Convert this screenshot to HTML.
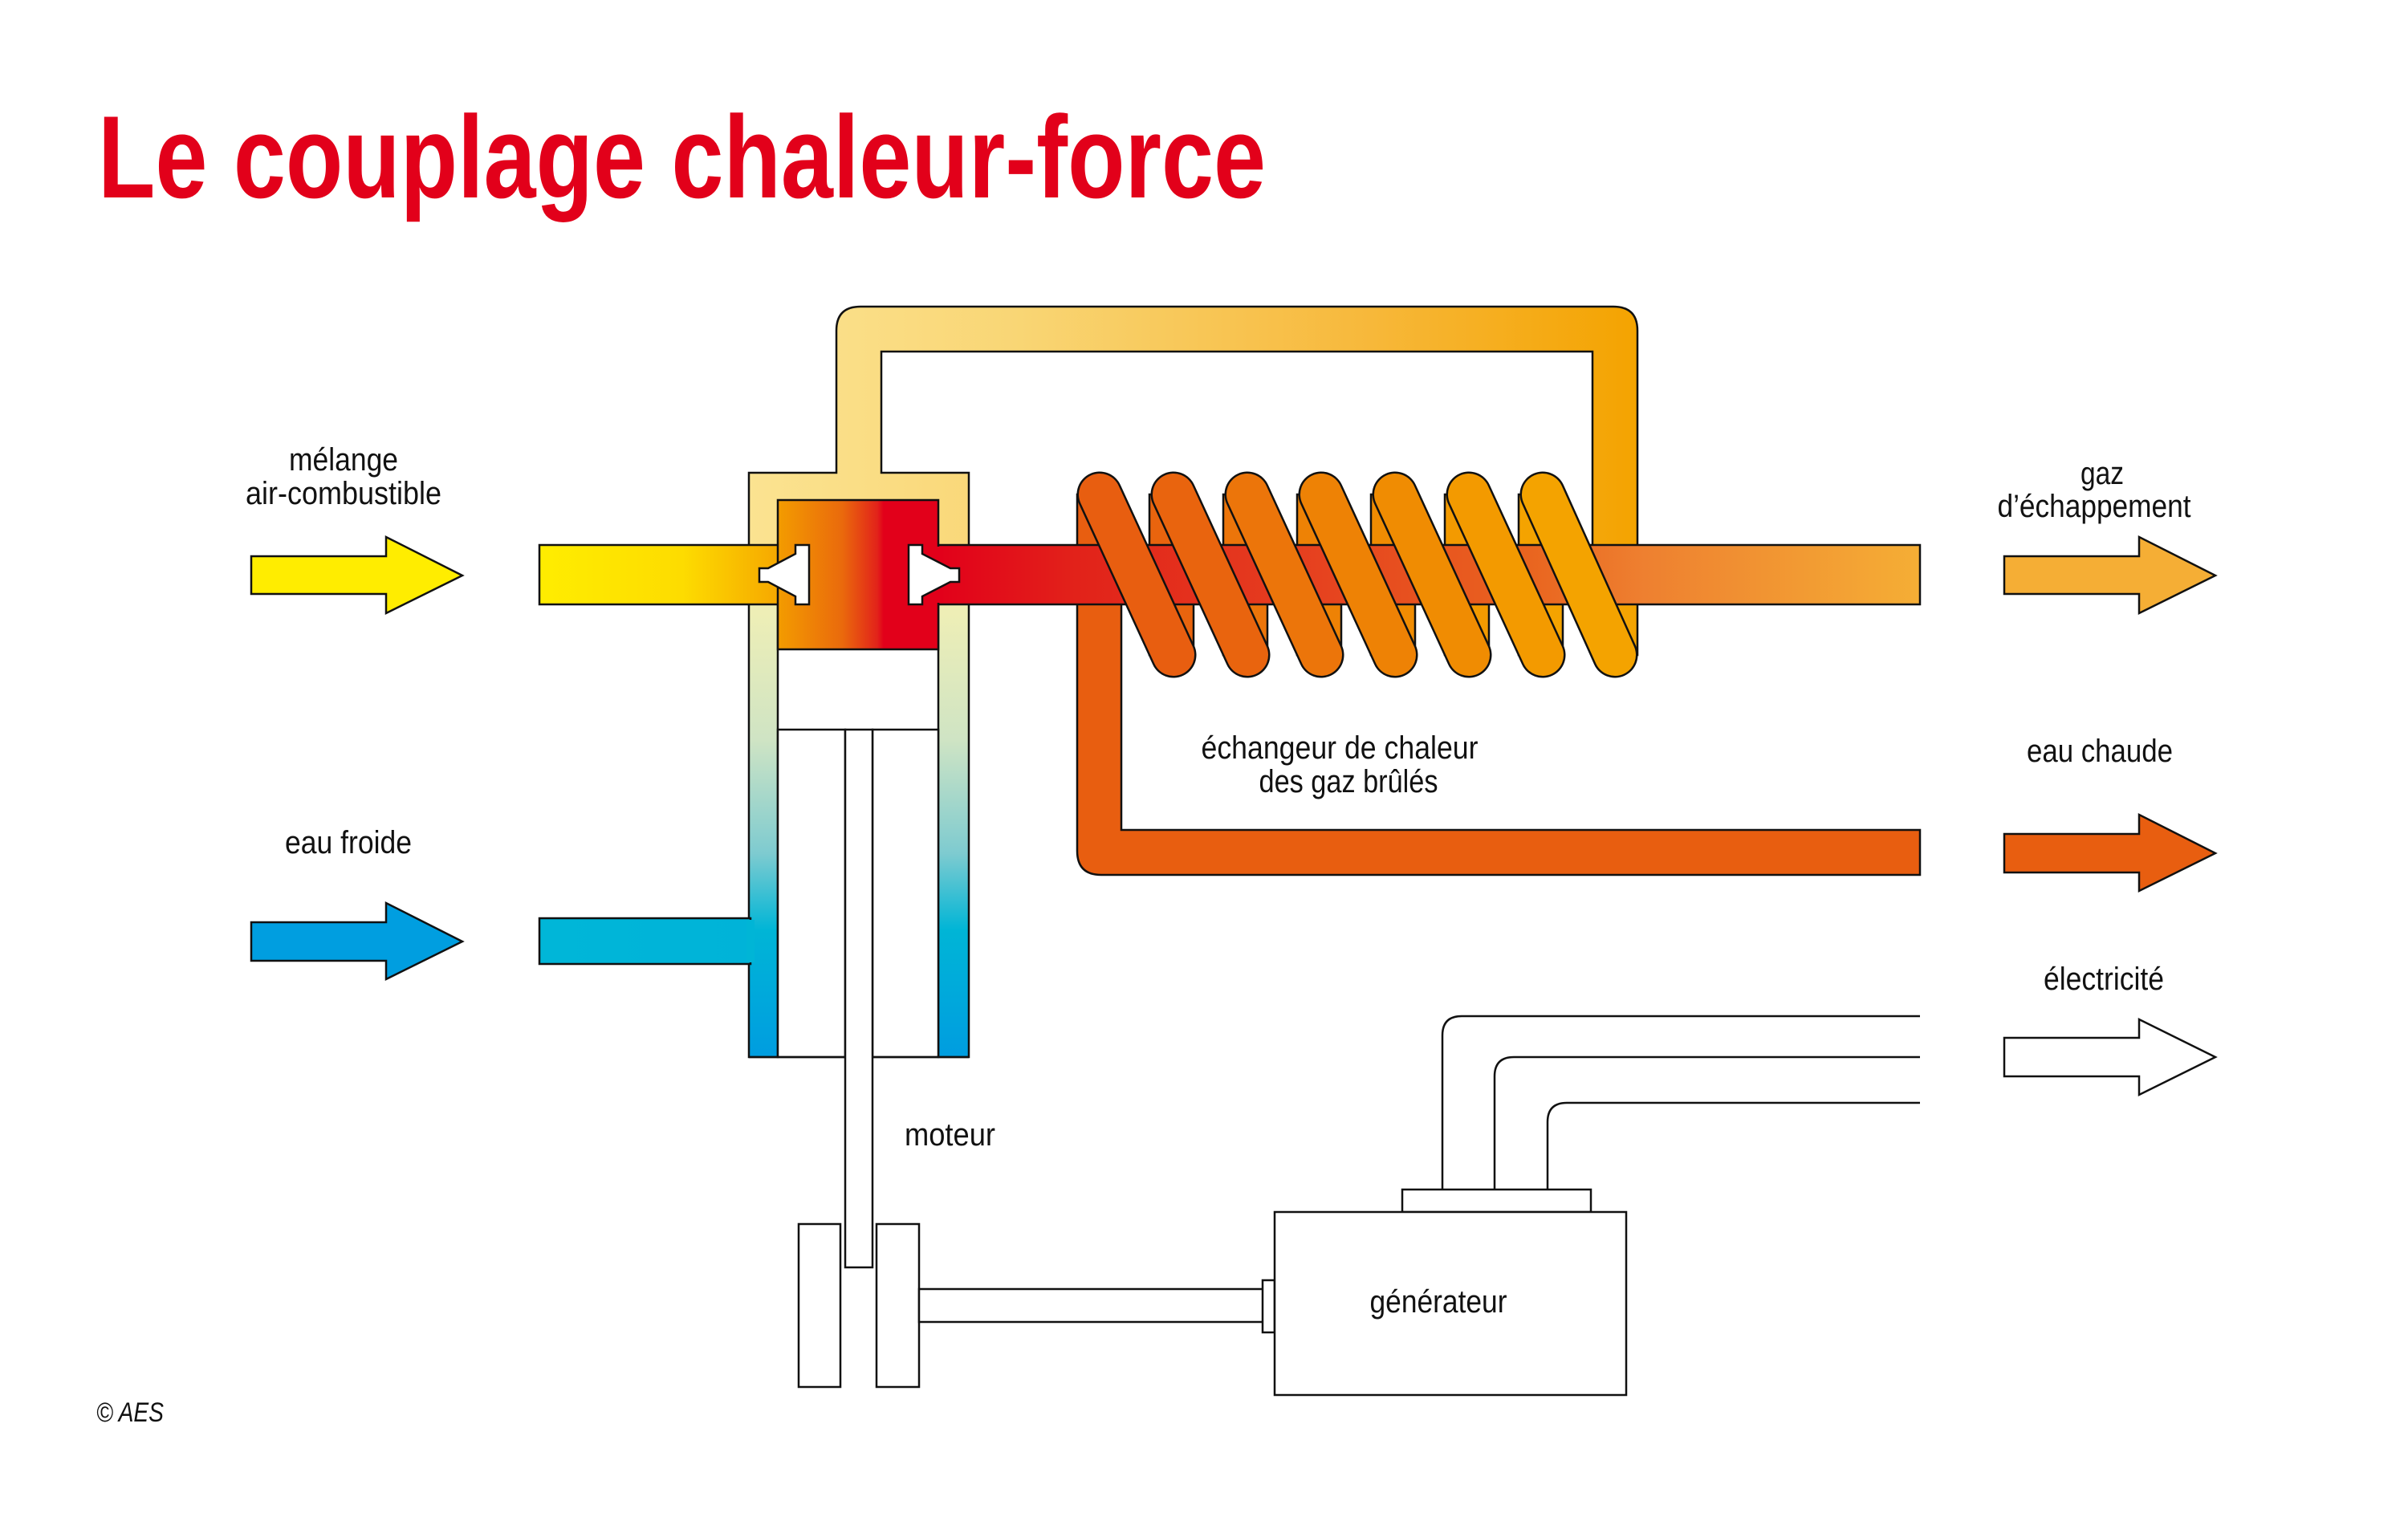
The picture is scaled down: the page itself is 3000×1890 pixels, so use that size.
<!DOCTYPE html>
<html><head><meta charset="utf-8"><style>
html,body{margin:0;padding:0;background:#fff;}
svg{display:block;}
text{font-family:"Liberation Sans Narrow","Liberation Sans",sans-serif;fill:#111;}
</style></head><body>
<svg width="3000" height="1890" viewBox="0 0 3000 1890" xmlns="http://www.w3.org/2000/svg">
<defs>
<linearGradient id="gYel" gradientUnits="userSpaceOnUse" x1="672" y1="0" x2="969" y2="0">
<stop offset="0" stop-color="#ffed00"/><stop offset="0.6" stop-color="#fddc00"/><stop offset="1" stop-color="#f6a800"/></linearGradient>
<linearGradient id="gCh" gradientUnits="userSpaceOnUse" x1="969" y1="0" x2="1169" y2="0">
<stop offset="0" stop-color="#f39c00"/><stop offset="0.4" stop-color="#ea6a0c"/><stop offset="0.62" stop-color="#e2231a"/><stop offset="0.66" stop-color="#e2001a"/><stop offset="1" stop-color="#e2001a"/></linearGradient>
<linearGradient id="gGas" gradientUnits="userSpaceOnUse" x1="1169" y1="0" x2="2392" y2="0">
<stop offset="0" stop-color="#e2001a"/><stop offset="0.14" stop-color="#e2221a"/><stop offset="0.35" stop-color="#e53c1f"/><stop offset="0.6" stop-color="#e9641f"/><stop offset="0.72" stop-color="#ee8030"/><stop offset="1" stop-color="#f5ae35"/></linearGradient>
<linearGradient id="gTop" gradientUnits="userSpaceOnUse" x1="933" y1="0" x2="2040" y2="0">
<stop offset="0" stop-color="#fbe391"/><stop offset="0.3" stop-color="#f9d675"/><stop offset="0.7" stop-color="#f7b83a"/><stop offset="1" stop-color="#f4a300"/></linearGradient>
<linearGradient id="gWall" gradientUnits="userSpaceOnUse" x1="0" y1="753" x2="0" y2="1317">
<stop offset="0" stop-color="#f0efb5"/><stop offset="0.3" stop-color="#cfe4c4"/><stop offset="0.55" stop-color="#7ecbd0"/><stop offset="0.72" stop-color="#00b5d6"/><stop offset="1" stop-color="#009de0"/></linearGradient>
<linearGradient id="gCold" gradientUnits="userSpaceOnUse" x1="672" y1="0" x2="933" y2="0">
<stop offset="0" stop-color="#00b6d8"/><stop offset="1" stop-color="#00b3d8"/></linearGradient>
</defs>

<text x="122" y="246" font-size="146" font-weight="bold" style="fill:#e2001a" textLength="1455" lengthAdjust="spacingAndGlyphs">Le couplage chaleur-force</text>

<g stroke="#111" stroke-width="2.5" stroke-linejoin="miter">
<polygon points="313,693 481,693 481,669 576,717 481,764 481,740 313,740" fill="#ffed00"/>
<polygon points="313,1149 481,1149 481,1125 576,1173 481,1220 481,1197 313,1197" fill="#009ee0"/>
<polygon points="2497,693 2665,693 2665,669 2760,717 2665,764 2665,740 2497,740" fill="#f5ae35"/>
<polygon points="2497,1039 2665,1039 2665,1015 2760,1063 2665,1110 2665,1087 2497,1087" fill="#e85e10"/>
<polygon points="2497,1293 2665,1293 2665,1270 2760,1317 2665,1364 2665,1341 2497,1341" fill="#fff"/>

<path d="M933,753 V589 H1042 V412 Q1042,382 1072,382 H2010 Q2040,382 2040,412 V816 H1984 V438 H1098 V589 H1207 V753 Z" fill="url(#gTop)"/>

<path d="M1342,616 V1060 Q1342,1090 1372,1090 H2392 V1034 H1397 V616 Z" fill="#e85e10"/>

<rect x="1432" y="616" width="55" height="200" fill="#e9640e"/>
<rect x="1524" y="616" width="55" height="200" fill="#ec750a"/>
<rect x="1616" y="616" width="55" height="200" fill="#ee8205"/>
<rect x="1708" y="616" width="55" height="200" fill="#f08c02"/>
<rect x="1800" y="616" width="55" height="200" fill="#f39a00"/>
<rect x="1892" y="616" width="55" height="200" fill="#f4a300"/>

<rect x="933" y="740" width="36" height="577" fill="url(#gWall)"/>
<rect x="1169" y="740" width="38" height="577" fill="url(#gWall)"/>
<rect x="672" y="1144" width="263" height="57" fill="url(#gCold)"/>
<rect x="930" y="1146" width="10" height="53" fill="#00b5d6" stroke="none"/>
<rect x="935" y="745" width="32" height="10" fill="#f0efb5" stroke="none"/>
<rect x="1171" y="745" width="34" height="10" fill="#f0efb5" stroke="none"/>
<rect x="672" y="679" width="300" height="74" fill="url(#gYel)"/>
<rect x="1160" y="679" width="1232" height="74" fill="url(#gGas)"/>
<rect x="969" y="623" width="200" height="186" fill="url(#gCh)"/>
<rect x="971" y="681" width="200" height="70" fill="url(#gCh)" stroke="none"/>
<rect x="1167" y="681" width="8" height="70" fill="#e2001a" stroke="none"/>
<polygon points="1008,679 991,679 991,690 957,708 946,708 946,725 957,725 991,743 991,753 1008,753" fill="#fff"/>
<polygon points="1132,679 1149,679 1149,690 1184,708 1195,708 1195,725 1184,725 1149,743 1149,753 1132,753" fill="#fff"/>

<rect x="969" y="909" width="84" height="408" fill="#fff"/>
<rect x="1087" y="909" width="82" height="408" fill="#fff"/>
<rect x="1053" y="909" width="34" height="670" fill="#fff"/>
<line x1="933" y1="1317" x2="1053" y2="1317"/>
<line x1="1087" y1="1317" x2="1207" y2="1317"/>
<rect x="995" y="1525" width="52" height="203" fill="#fff"/>
<rect x="1092" y="1525" width="53" height="203" fill="#fff"/>
<rect x="1145" y="1606" width="430" height="41" fill="#fff"/>
<rect x="1573" y="1595" width="15" height="65" fill="#fff"/>
<rect x="1747" y="1482" width="235" height="28" fill="#fff"/>
<rect x="1588" y="1510" width="438" height="228" fill="#fff"/>
<path d="M1797,1482 V1290 Q1797,1266 1821,1266 H2392" fill="none"/>
<path d="M1862,1482 V1341 Q1862,1317 1886,1317 H2392" fill="none"/>
<path d="M1928,1482 V1398 Q1928,1374 1952,1374 H2392" fill="none"/>
</g>

<g stroke-linecap="round" fill="none">
<g stroke="#111" stroke-width="57">
<line x1="1370" y1="616" x2="1462" y2="816"/>
<line x1="1462" y1="616" x2="1554" y2="816"/>
<line x1="1554" y1="616" x2="1646" y2="816"/>
<line x1="1646" y1="616" x2="1738" y2="816"/>
<line x1="1738" y1="616" x2="1830" y2="816"/>
<line x1="1830" y1="616" x2="1922" y2="816"/>
<line x1="1922" y1="616" x2="2012" y2="816"/>
</g>
<line x1="1370" y1="616" x2="1462" y2="816" stroke="#e85e10" stroke-width="52"/>
<line x1="1462" y1="616" x2="1554" y2="816" stroke="#e9640e" stroke-width="52"/>
<line x1="1554" y1="616" x2="1646" y2="816" stroke="#ec750a" stroke-width="52"/>
<line x1="1646" y1="616" x2="1738" y2="816" stroke="#ee8205" stroke-width="52"/>
<line x1="1738" y1="616" x2="1830" y2="816" stroke="#f08c02" stroke-width="52"/>
<line x1="1830" y1="616" x2="1922" y2="816" stroke="#f39a00" stroke-width="52"/>
<line x1="1922" y1="616" x2="2012" y2="816" stroke="#f4a300" stroke-width="52"/>
</g>

<g font-size="40" text-anchor="middle">
<text x="428" y="586" textLength="136" lengthAdjust="spacingAndGlyphs">mélange</text>
<text x="428" y="628" textLength="244" lengthAdjust="spacingAndGlyphs">air-combustible</text>
<text x="434" y="1063" textLength="158" lengthAdjust="spacingAndGlyphs">eau froide</text>
<text x="1669" y="945" textLength="345" lengthAdjust="spacingAndGlyphs">échangeur de chaleur</text>
<text x="1680" y="987" textLength="223" lengthAdjust="spacingAndGlyphs">des gaz brûlés</text>
<text x="2619" y="603" textLength="54" lengthAdjust="spacingAndGlyphs">gaz</text>
<text x="2609" y="644" textLength="241" lengthAdjust="spacingAndGlyphs">d’échappement</text>
<text x="2616" y="949" textLength="182" lengthAdjust="spacingAndGlyphs">eau chaude</text>
<text x="2621" y="1233" textLength="150" lengthAdjust="spacingAndGlyphs">électricité</text>
<text x="1792" y="1635" textLength="171" lengthAdjust="spacingAndGlyphs">générateur</text>
</g>
<text x="1127" y="1427" font-size="40" textLength="113" lengthAdjust="spacingAndGlyphs">moteur</text>
<text x="120" y="1771" font-size="34" font-style="italic" textLength="84" lengthAdjust="spacingAndGlyphs">© AES</text>
</svg>
</body></html>
